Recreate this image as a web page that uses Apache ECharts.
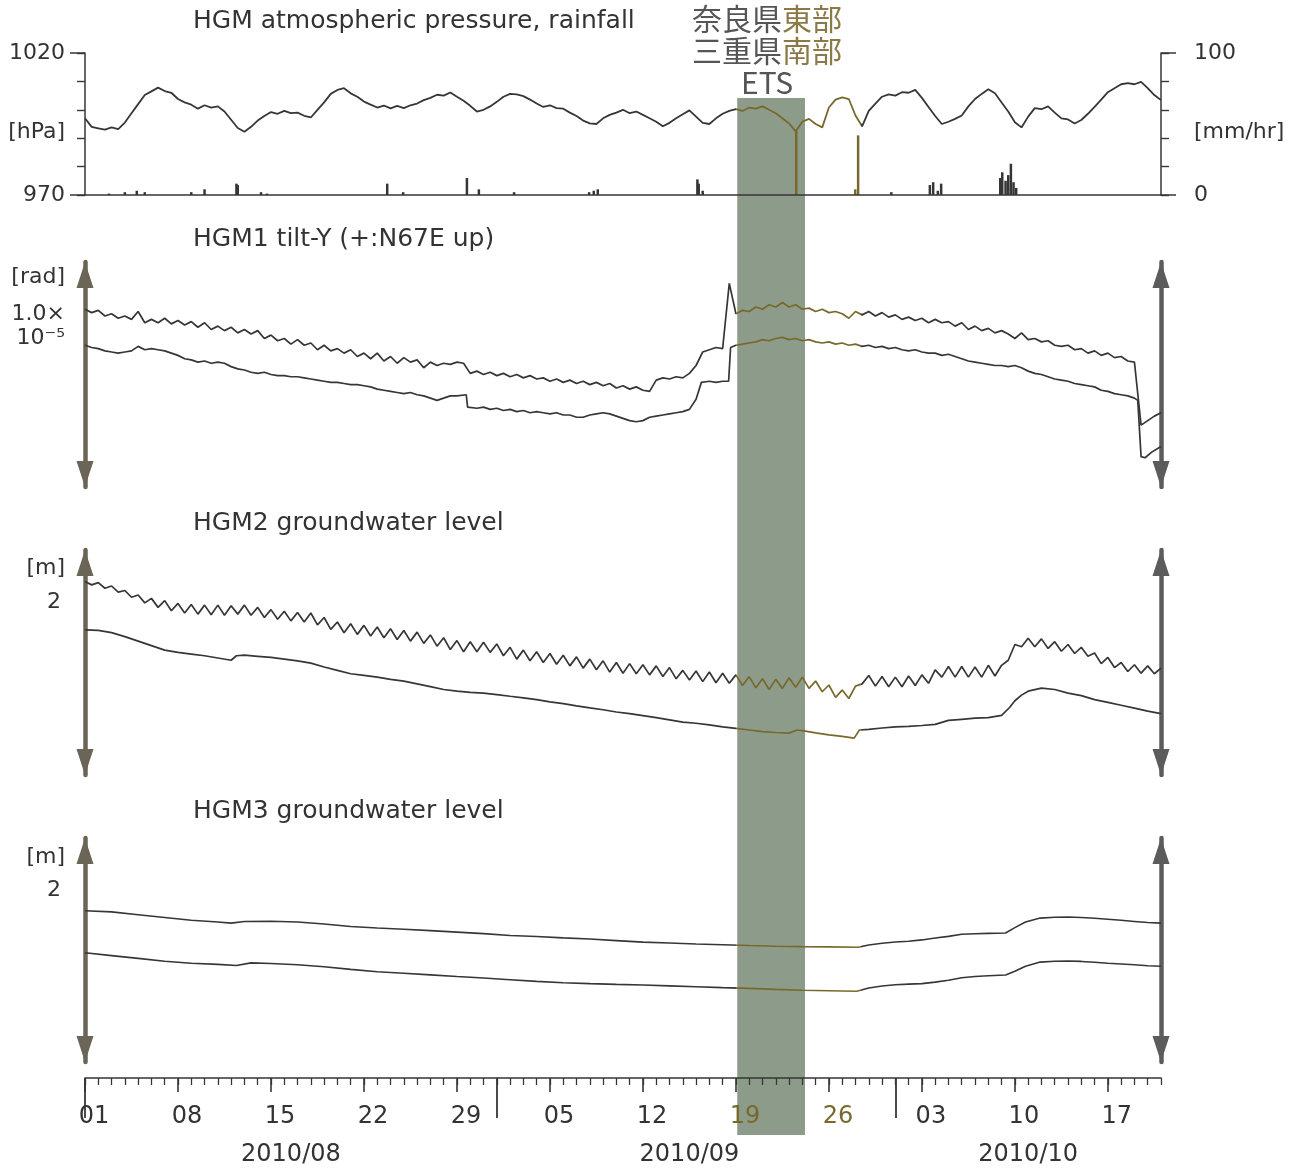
<!DOCTYPE html>
<html>
<head>
<meta charset="utf-8">
<script src="https://cdn.jsdelivr.net/npm/echarts@6/dist/echarts.min.js"></script>
<style>html,body{margin:0;padding:0;background:#fff}#c{width:1303px;height:1172px}</style>
</head>
<body>
<div id="c"></div>
<script>
// x values: days since 2010-08-01 00:00
const X_MIN = 0, X_MAX = 81;
const STEP = 0.5; // sampling of the half-day series

// HGM atmospheric pressure [hPa], every 12 h
const pressure = [
  997.0, 994.0, 993.5, 993.0, 993.8, 993.2, 995.5, 998.8, 1002.0, 1005.2,
  1006.5, 1007.8, 1006.6, 1006.0, 1003.8, 1002.6, 1001.8, 1000.4, 1001.6, 1000.8,
  1001.2, 999.4, 996.5, 993.6, 992.3, 994.0, 996.2, 997.8, 999.2, 998.6,
  999.6, 998.8, 999.0, 997.9, 997.3, 1000.0, 1002.6, 1005.6, 1007.0, 1007.6,
  1005.8, 1004.6, 1002.9, 1001.8, 1000.8, 1001.5, 1000.5, 1001.4, 1000.6, 1001.6,
  1002.2, 1003.4, 1004.2, 1005.3, 1005.0, 1006.1, 1004.6, 1003.2, 1001.4, 999.4,
  1000.0, 1001.2, 1002.8, 1004.6, 1005.6, 1005.4, 1004.8, 1003.6, 1002.2, 1001.0,
  1001.6, 1000.6, 1000.4, 999.0, 997.8, 996.2, 995.2, 995.0, 997.0, 998.2,
  999.0, 1000.0, 998.8, 999.4, 998.2, 997.0, 995.8, 994.2, 995.4, 997.0,
  998.4, 999.8, 997.6, 995.4, 995.0, 997.0, 998.6, 999.6, 1000.2, 999.6,
  1000.8, 1000.4, 1001.2, 1000.0, 998.8, 997.0, 995.2, 992.4, 995.8, 996.8,
  995.0, 993.8, 1000.8, 1003.6, 1004.4, 1003.8, 998.0, 994.2, 999.6, 1002.2,
  1004.6, 1005.4, 1005.0, 1006.2, 1006.0, 1007.0, 1004.2, 1001.0, 997.8, 995.0,
  995.8, 996.8, 998.0, 1001.2, 1003.8, 1005.6, 1007.2, 1005.8, 1002.6, 999.4,
  995.6, 993.8, 997.6, 1000.6, 1000.2, 1001.2, 999.0, 997.0, 996.6, 995.2,
  996.4, 998.6, 1001.0, 1003.6, 1006.2, 1007.6, 1009.0, 1009.4, 1009.0, 1009.8,
  1007.6, 1005.2, 1003.4
];

// HGM rainfall [mm/hr] as [day, value]
const rainfall = [
  [1.8,1],[3.0,2],[3.9,3],[4.5,2],[8.0,2],[9.0,4],[11.4,8],[11.5,7],[13.25,2],[13.7,1],
  [22.75,8],[23.95,2],[28.75,12],[29.65,4],[32.3,2],[37.95,2],[38.3,3],[38.6,4],
  [46.1,11],[46.2,8],[46.5,3],[53.54,45],[57.98,4],[58.2,42],[60.7,2],
  [63.6,7],[63.85,9],[64.2,3],[64.45,8],[68.9,12],[69.05,16],[69.3,10],[69.5,14],
  [69.7,22],[69.9,9],[70.1,5]
];

// HGM1 tilt-Y [1e-6 rad], upper trace, every 12 h
const tiltUpper = [
  7.9, 7.75, 7.85, 7.6, 7.7, 7.5, 7.6, 7.45, 7.8, 7.3,
  7.45, 7.3, 7.5, 7.25, 7.4, 7.2, 7.35, 7.1, 7.3, 7.0,
  7.15, 6.95, 7.1, 6.85, 7.0, 6.8, 6.95, 6.6, 6.75, 6.5,
  6.6, 6.35, 6.55, 6.3, 6.4, 6.1, 6.3, 6.05, 6.15, 5.95,
  6.1, 5.8, 5.95, 5.7, 5.95, 5.6, 5.8, 5.5, 5.75, 5.55,
  5.65, 5.3, 5.55, 5.4, 5.5, 5.45, 5.55, 5.5, 5.05, 5.15,
  5.0, 5.1, 4.95, 5.05, 4.9, 5.0, 4.85, 4.95, 4.8, 4.85,
  4.7, 4.8, 4.65, 4.75, 4.6, 4.7, 4.55, 4.65, 4.5, 4.6,
  4.4, 4.5, 4.35, 4.45, 4.3, 4.25, 4.75, 4.85, 4.8, 4.9,
  4.85, 5.05, 5.4, 6.0, 6.1, 6.2, 6.15, 9.05, 7.7, 7.85,
  7.8, 8.0, 7.9, 8.1, 8.0, 8.2, 8.0, 8.1, 7.9, 7.95,
  7.8, 7.9, 7.75, 7.8, 7.7, 7.5, 7.8, 7.65, 7.8, 7.6,
  7.75, 7.55, 7.65, 7.45, 7.55, 7.4, 7.5, 7.3, 7.45, 7.3,
  7.35, 7.15, 7.3, 7.0, 7.15, 6.95, 7.05, 6.85, 6.95, 6.8,
  6.6, 6.85, 6.55, 6.6, 6.45, 6.5, 6.3, 6.25, 6.3, 6.1,
  6.15, 5.95, 6.05, 5.85, 5.95, 5.75, 5.8, 5.6, 5.55, 2.75,
  2.95, 3.15, 3.3
];

// HGM1 tilt-Y [1e-6 rad], lower trace, [day, value]
const tiltLower = [
  [0,6.3],[0.5,6.2],[1,6.15],[1.5,6.05],[2,6.0],[2.5,5.95],[3,6.0],[3.5,6.05],[4,6.25],[4.5,6.1],
  [5,6.15],[5.5,6.1],[6,6.05],[6.5,5.95],[7,5.85],[7.5,5.7],[8,5.65],[8.5,5.55],[9,5.6],[9.5,5.5],
  [10,5.55],[10.5,5.5],[11,5.35],[11.5,5.25],[12,5.2],[12.5,5.1],[13,5.05],[13.5,5.1],[14,5.0],[14.5,4.95],
  [15,4.95],[15.5,4.9],[16,4.9],[16.5,4.85],[17,4.8],[17.5,4.75],[18,4.7],[18.5,4.65],[19,4.65],[19.5,4.6],
  [20,4.55],[20.5,4.55],[21,4.5],[21.5,4.45],[22,4.35],[22.5,4.3],[23,4.25],[23.5,4.2],[24,4.15],[24.5,4.2],
  [25,4.1],[25.5,4.05],[26,3.95],[26.5,3.85],[27,3.95],[27.5,4.05],[28,4.05],[28.7,4.1],[28.8,3.55],[29.5,3.5],
  [30,3.55],[30.5,3.45],[31,3.5],[31.5,3.4],[32,3.45],[32.5,3.35],[33,3.4],[33.5,3.3],[34,3.35],[34.5,3.3],
  [35,3.25],[35.5,3.3],[36,3.2],[36.5,3.2],[37,3.1],[37.5,3.1],[38,3.2],[38.5,3.25],[39,3.3],[39.5,3.25],
  [40,3.15],[40.5,3.05],[41,2.95],[41.5,2.9],[42,2.95],[42.5,3.1],[43,3.15],[43.5,3.2],[44,3.25],[44.5,3.3],
  [45,3.35],[45.5,3.45],[46,3.9],[46.4,4.65],[47,4.7],[47.5,4.65],[48,4.7],[48.45,4.7],[48.6,6.2],[49,6.3],
  [49.5,6.35],[50,6.4],[50.5,6.45],[51,6.55],[51.5,6.5],[52,6.6],[52.5,6.65],[53,6.55],[53.5,6.6],[54,6.5],
  [54.5,6.55],[55,6.45],[55.5,6.4],[56,6.45],[56.5,6.35],[57,6.4],[57.5,6.3],[58,6.35],[58.5,6.25],[59,6.3],
  [59.5,6.2],[60,6.25],[60.5,6.15],[61,6.2],[61.5,6.1],[62,6.05],[62.5,6.1],[63,6.0],[63.5,5.95],[64,5.95],
  [64.5,5.85],[65,5.9],[65.5,5.8],[66,5.7],[66.5,5.6],[67,5.55],[67.5,5.5],[68,5.45],[68.5,5.4],[69,5.4],
  [69.5,5.35],[70,5.4],[70.5,5.3],[71,5.15],[71.5,5.05],[72,5.0],[72.5,4.9],[73,4.8],[73.5,4.75],[74,4.7],
  [74.5,4.6],[75,4.55],[75.5,4.5],[76,4.45],[76.5,4.3],[77,4.25],[77.5,4.15],[78,4.1],[78.5,4.05],[79,3.95],
  [79.25,3.85],[79.5,1.35],[79.8,1.3],[80.3,1.55],[81,1.8]
];

// HGM2 groundwater level [m], upper trace, every 12 h
const gw2Upper = [
  1.72, 1.69, 1.71, 1.66, 1.68, 1.625, 1.64, 1.58, 1.60, 1.53,
  1.57, 1.49, 1.55, 1.46, 1.525, 1.44, 1.515, 1.43, 1.51, 1.425,
  1.51, 1.42, 1.505, 1.43, 1.51, 1.42, 1.49, 1.40, 1.47, 1.385,
  1.455, 1.37, 1.445, 1.36, 1.44, 1.335, 1.40, 1.295, 1.36, 1.265,
  1.345, 1.25, 1.33, 1.235, 1.315, 1.22, 1.30, 1.205, 1.285, 1.19,
  1.27, 1.17, 1.245, 1.145, 1.22, 1.115, 1.195, 1.095, 1.185, 1.095,
  1.18, 1.09, 1.165, 1.06, 1.135, 1.03, 1.11, 1.015, 1.095, 1.00,
  1.08, 0.985, 1.065, 0.97, 1.05, 0.95, 1.03, 0.935, 1.015, 0.915,
  1.00, 0.905, 0.99, 0.90, 0.98, 0.89, 0.97, 0.875, 0.955, 0.855,
  0.93, 0.845, 0.925, 0.83, 0.915, 0.82, 0.905, 0.815, 0.89, 0.795,
  0.875, 0.775, 0.855, 0.76, 0.85, 0.77, 0.865, 0.78, 0.87, 0.77,
  0.835, 0.74, 0.80, 0.69, 0.755, 0.68, 0.79, 0.81, 0.885, 0.79,
  0.875, 0.785, 0.87, 0.785, 0.88, 0.795, 0.89, 0.815, 0.935, 0.87,
  0.965, 0.87, 0.965, 0.87, 0.96, 0.87, 0.975, 0.88, 0.975, 1.02,
  1.16, 1.14, 1.215, 1.14, 1.21, 1.125, 1.185, 1.10, 1.16, 1.08,
  1.135, 1.055, 1.085, 0.99, 1.045, 0.955, 1.00, 0.92, 0.98, 0.905,
  0.97, 0.90, 0.95
];

// HGM2 groundwater level [m], lower trace, [day, value]
const gw2Lower = [
  [0,1.29],[1,1.285],[2,1.265],[3,1.23],[4,1.19],[5,1.15],[6,1.11],[7,1.09],[8,1.075],[9,1.06],
  [10,1.04],[11,1.02],[11.4,1.06],[12,1.065],[13,1.055],[14,1.045],[15,1.03],[16,1.015],[17,0.995],[18,0.96],
  [19,0.93],[20,0.9],[21,0.885],[22,0.87],[23,0.85],[24,0.835],[25,0.81],[26,0.785],[27,0.76],[28,0.745],
  [29,0.735],[30,0.728],[31,0.715],[32,0.7],[33,0.686],[34,0.67],[35,0.65],[36,0.635],[37,0.615],[38,0.596],
  [39,0.58],[40,0.56],[41,0.545],[42,0.528],[43,0.51],[44,0.49],[45,0.47],[46,0.46],[47,0.445],[48,0.428],
  [49,0.415],[50,0.4],[51,0.385],[52,0.378],[53,0.372],[53.6,0.4],[54,0.395],[55,0.375],[56,0.357],[57,0.343],
  [57.9,0.328],[58.3,0.4],[59,0.405],[60,0.418],[61,0.428],[62,0.433],[63,0.44],[64,0.45],[65,0.485],[66,0.495],
  [67,0.505],[68,0.51],[69,0.53],[69.6,0.6],[70,0.66],[70.5,0.71],[71,0.745],[72,0.772],[73,0.76],[74,0.728],
  [75,0.705],[76,0.67],[77,0.645],[78,0.62],[79,0.595],[80,0.568],[81,0.545]
];

// HGM3 groundwater level [m], [day, value]
const gw3Upper = [
  [0,1.35],[2,1.34],[4,1.315],[6,1.29],[8,1.265],[10,1.25],[11,1.24],[12,1.255],[14,1.257],[16,1.25],
  [18,1.232],[20,1.21],[22,1.197],[24,1.185],[26,1.173],[28,1.16],[30,1.146],[32,1.13],[34,1.12],[36,1.108],
  [38,1.098],[40,1.084],[42,1.07],[44,1.062],[46,1.054],[48,1.047],[50,1.04],[52,1.034],[54,1.03],[56,1.028],
  [58.2,1.025],[59,1.045],[60,1.06],[61,1.072],[62,1.078],[63,1.09],[64,1.107],[65,1.122],[66,1.14],[67,1.145],
  [68,1.148],[69.3,1.152],[70,1.2],[70.8,1.25],[71.9,1.285],[73,1.292],[74,1.295],[75,1.29],[76,1.283],[77,1.275],
  [78,1.265],[79,1.255],[80,1.245],[81,1.24]
];
const gw3Lower = [
  [0,0.975],[2,0.95],[4,0.925],[6,0.9],[8,0.882],[10,0.872],[11.4,0.862],[12.5,0.885],[14,0.88],[16,0.868],
  [18,0.85],[20,0.827],[22,0.806],[24,0.793],[26,0.778],[28,0.763],[30,0.75],[32,0.735],[34,0.72],[36,0.708],
  [38,0.7],[40,0.693],[42,0.687],[44,0.68],[46,0.672],[48,0.664],[50,0.657],[52,0.648],[54,0.64],[56,0.636],
  [58.1,0.632],[59,0.66],[60,0.678],[61,0.69],[62,0.695],[63,0.7],[64,0.713],[65,0.73],[66,0.752],[67,0.763],
  [68,0.77],[69.3,0.777],[70,0.81],[70.8,0.855],[71.9,0.892],[73,0.9],[74,0.902],[75,0.898],[76,0.89],[77,0.882],
  [78,0.875],[79,0.868],[80,0.86],[81,0.855]
];

// time axis
const weekTicks = [0, 7, 14, 21, 28, 35, 42, 49, 56, 63, 70, 77];
const weekLabels = ['01', '08', '15', '22', '29', '05', '12', '19', '26', '03', '10', '17'];
const monthStarts = [0, 31, 61];
const monthCenters = [15.5, 45.5, 71];
const monthLabels = ['2010/08', '2010/09', '2010/10'];
const dayTicks = Array.from({length: X_MAX + 1}, (_, i) => i);

// ETS period and highlighted span
const ETS_FROM = 49.1, ETS_TO = 54.2;
const HL_FROM = 49.0, HL_TO = 58.4;

const INK = '#363636', OLIVE = '#77692c', TXT = '#333333';
const ARROW_L = '#6a6556', ARROW_R = '#5c5c5c', BAND = '#8d9c8a';
const FONT = 'DejaVu Sans';

const halfDay = arr => arr.map((v, i) => [i * STEP, v]);

const chart = echarts.init(document.getElementById('c'), null, {renderer: 'canvas'});

const L = 85, W = 1076;
const gridBox = (top, height) => ({left: L, width: W, top: top, height: height,
  containLabel: false, outerBoundsMode: 'none'});
const grids = [
  gridBox(53, 142),    // 0 pressure
  gridBox(262, 225),   // 1 HGM1
  gridBox(550, 225),   // 2 HGM2
  gridBox(838, 224),   // 3 HGM3
  gridBox(1077, 1),    // 4 time axis
  gridBox(98, 1037)    // 5 ETS band
];

const hiddenX = g => ({type: 'value', gridIndex: g, min: X_MIN, max: X_MAX, show: false});
const baseX = (g, extra) => Object.assign({
  type: 'value', gridIndex: g, min: X_MIN, max: X_MAX, position: 'bottom', z: 10,
  axisLine: {show: false, onZero: false}, axisTick: {show: false}, axisLabel: {show: false},
  splitLine: {show: false}
}, extra);

const labelStyle = {fontSize: 22, color: TXT, fontFamily: FONT};

const arrowAxis = (g, pos, max, color, name, rich, gap) => ({
  type: 'value', gridIndex: g, min: 0, max: max, position: pos,
  axisLine: {show: true, onZero: false, symbol: ['triangle', 'triangle'], symbolSize: [17, 26],
    symbolOffset: [13, -13], lineStyle: {color: color, width: 4.5}},
  axisTick: {show: false}, axisLabel: {show: false}, splitLine: {show: false},
  name: name || '', nameLocation: 'end', nameGap: gap || 0, nameMoveOverlap: false,
  nameTextStyle: {align: 'right', verticalAlign: 'top', padding: [0, 20, 0, 0], rich: rich || {}}
});

const titleStyle = {fontSize: 25, fontWeight: 'normal', color: TXT, fontFamily: FONT};

const option = {
  animation: false,
  backgroundColor: '#ffffff',
  textStyle: {fontFamily: FONT},
  title: [
    {text: 'HGM atmospheric pressure, rainfall', left: 193, top: 9, padding: 0, textStyle: titleStyle},
    {text: 'HGM1 tilt-Y (+:N67E up)', left: 193, top: 227, padding: 0, textStyle: titleStyle},
    {text: 'HGM2 groundwater level', left: 193, top: 511, padding: 0, textStyle: titleStyle},
    {text: 'HGM3 groundwater level', left: 193, top: 799, padding: 0, textStyle: titleStyle}
  ],
  grid: grids,
  xAxis: [
    baseX(0, {axisLine: {show: true, onZero: false, lineStyle: {color: INK, width: 1.5}}}),
    hiddenX(1), hiddenX(2), hiddenX(3),
    // daily ticks
    baseX(4, {axisLine: {show: true, onZero: false, lineStyle: {color: INK, width: 1.6}},
      axisTick: {show: true, customValues: dayTicks, length: 7, lineStyle: {color: INK, width: 1.3}}}),
    // weekly ticks + day labels
    baseX(4, {axisTick: {show: true, customValues: weekTicks, length: 14, lineStyle: {color: INK, width: 1.6}},
      axisLabel: {show: true, customValues: weekTicks, margin: 27, fontSize: 24, color: TXT, fontFamily: FONT,
        padding: [0, 0, 0, 18],
        formatter: v => {
          const i = weekTicks.indexOf(Math.round(v));
          const s = i >= 0 ? weekLabels[i] : '';
          return (v >= HL_FROM && v <= HL_TO) ? '{o|' + s + '}' : s;
        },
        rich: {o: {color: OLIVE, fontSize: 24, fontFamily: FONT}}}}),
    // month boundaries
    baseX(4, {axisTick: {show: true, customValues: monthStarts, length: 40, lineStyle: {color: INK, width: 1.8}}}),
    // month labels
    baseX(4, {axisLabel: {show: true, customValues: monthCenters, margin: 65, fontSize: 24, color: TXT, fontFamily: FONT,
      formatter: v => monthLabels[monthCenters.indexOf(v)] || ''}}),
    hiddenX(5)
  ],
  yAxis: [
    // 0: pressure (left)
    {type: 'value', gridIndex: 0, min: 970, max: 1020, interval: 10, position: 'left',
      axisLine: {show: true, onZero: false, lineStyle: {color: INK, width: 1.5}},
      axisTick: {show: true, length: 8, lineStyle: {color: INK, width: 1.4}},
      axisLabel: Object.assign({show: true, customValues: [970, 1020], margin: 20,
        formatter: v => String(v)}, labelStyle),
      splitLine: {show: false},
      name: '[hPa]', nameLocation: 'middle', nameRotate: 0, nameGap: 20, nameMoveOverlap: false,
      nameTextStyle: Object.assign({align: 'right', verticalAlign: 'top', lineHeight: 16}, labelStyle)},
    // 1: long end ticks (left)
    {type: 'value', gridIndex: 0, min: 970, max: 1020, position: 'left',
      axisLine: {show: false, onZero: false},
      axisTick: {show: true, customValues: [970, 1020], length: 15, lineStyle: {color: INK, width: 1.5}},
      axisLabel: {show: false}, splitLine: {show: false}},
    // 2: rainfall (right)
    {type: 'value', gridIndex: 0, min: 0, max: 100, interval: 20, position: 'right',
      axisLine: {show: true, onZero: false, lineStyle: {color: INK, width: 1.5}},
      axisTick: {show: true, length: 8, lineStyle: {color: INK, width: 1.4}},
      axisLabel: Object.assign({show: true, customValues: [0, 100], margin: 33,
        formatter: v => String(v)}, labelStyle),
      splitLine: {show: false},
      name: '[mm/hr]', nameLocation: 'middle', nameRotate: 0, nameGap: 33, nameMoveOverlap: false,
      nameTextStyle: Object.assign({align: 'left', verticalAlign: 'top', lineHeight: 16}, labelStyle)},
    // 3: long end ticks (right)
    {type: 'value', gridIndex: 0, min: 0, max: 100, position: 'right',
      axisLine: {show: false, onZero: false},
      axisTick: {show: true, customValues: [0, 100], length: 15, lineStyle: {color: INK, width: 1.5}},
      axisLabel: {show: false}, splitLine: {show: false}},
    // 4,5: HGM1 scale arrows
    arrowAxis(1, 'left', 10, ARROW_L, '{a|[rad]}\n{b|1.0×}\n{b|10⁻⁵}',
      {a: {fontSize: 22, lineHeight: 49, color: TXT, fontFamily: FONT},
       b: {fontSize: 22, lineHeight: 24, color: TXT, fontFamily: FONT}}, 9),
    arrowAxis(1, 'right', 10, ARROW_R),
    // 6,7: HGM2 scale arrows
    arrowAxis(2, 'left', 2, ARROW_L, '{a|[m]}\n{b|2}',
      {a: {fontSize: 22, lineHeight: 38, color: TXT, fontFamily: FONT},
       b: {fontSize: 22, lineHeight: 30, color: TXT, fontFamily: FONT, padding: [0, 4, 0, 0]}}, 1),
    arrowAxis(2, 'right', 2, ARROW_R),
    // 8,9: HGM3 scale arrows
    arrowAxis(3, 'left', 2, ARROW_L, '{a|[m]}\n{b|2}',
      {a: {fontSize: 22, lineHeight: 36, color: TXT, fontFamily: FONT},
       b: {fontSize: 22, lineHeight: 30, color: TXT, fontFamily: FONT, padding: [0, 4, 0, 0]}}, -1),
    arrowAxis(3, 'right', 2, ARROW_R),
    // 10: time axis grid
    {type: 'value', gridIndex: 4, min: 0, max: 1, show: false},
    // 11: band grid
    {type: 'value', gridIndex: 5, min: 0, max: 1, show: false}
  ],
  visualMap: [{
    type: 'piecewise', show: false, dimension: 0, seriesIndex: [0, 1, 2, 3, 4, 5, 6, 7],
    pieces: [
      {lt: HL_FROM, color: INK},
      {gte: HL_FROM, lte: HL_TO, color: OLIVE},
      {gt: HL_TO, color: INK}
    ]
  }],
  series: [
    {name: 'pressure', type: 'line', xAxisIndex: 0, yAxisIndex: 0, data: halfDay(pressure),
      showSymbol: false, lineStyle: {width: 1.8}, z: 3},
    {name: 'rainfall', type: 'bar', xAxisIndex: 0, yAxisIndex: 2, data: rainfall, barWidth: 2.5, z: 3},
    {name: 'HGM1 upper', type: 'line', xAxisIndex: 1, yAxisIndex: 4, data: halfDay(tiltUpper),
      showSymbol: false, lineStyle: {width: 1.7}, z: 3},
    {name: 'HGM1 lower', type: 'line', xAxisIndex: 1, yAxisIndex: 4, data: tiltLower,
      showSymbol: false, lineStyle: {width: 1.7}, z: 3},
    {name: 'HGM2 upper', type: 'line', xAxisIndex: 2, yAxisIndex: 6, data: halfDay(gw2Upper),
      showSymbol: false, lineStyle: {width: 1.7}, z: 3},
    {name: 'HGM2 lower', type: 'line', xAxisIndex: 2, yAxisIndex: 6, data: gw2Lower,
      showSymbol: false, lineStyle: {width: 1.7}, z: 3},
    {name: 'HGM3 upper', type: 'line', xAxisIndex: 3, yAxisIndex: 8, data: gw3Upper,
      showSymbol: false, lineStyle: {width: 1.6}, z: 3},
    {name: 'HGM3 lower', type: 'line', xAxisIndex: 3, yAxisIndex: 8, data: gw3Lower,
      showSymbol: false, lineStyle: {width: 1.6}, z: 3},
    {name: 'ETS', type: 'line', xAxisIndex: 8, yAxisIndex: 11, data: [], z: -5,
      markArea: {
        silent: true, z: -5,
        itemStyle: {color: BAND, opacity: 1},
        label: {
          show: true, position: 'top', distance: -1, offset: [-4, 0],
          formatter: () => '{g|奈良県}{o|東部}\n{g|三重県}{o|南部}\n{g|ETS}',
          align: 'center',
          rich: {
            g: {color: '#555555', fontSize: 30, lineHeight: 32, fontFamily: 'Noto Sans CJK JP'},
            o: {color: '#8b7a48', fontSize: 30, lineHeight: 32, fontFamily: 'Noto Sans CJK JP'}
          }
        },
        data: [[{xAxis: ETS_FROM}, {xAxis: ETS_TO}]]
      }}
  ]
};

chart.setOption(option);
</script>
</body>
</html>
